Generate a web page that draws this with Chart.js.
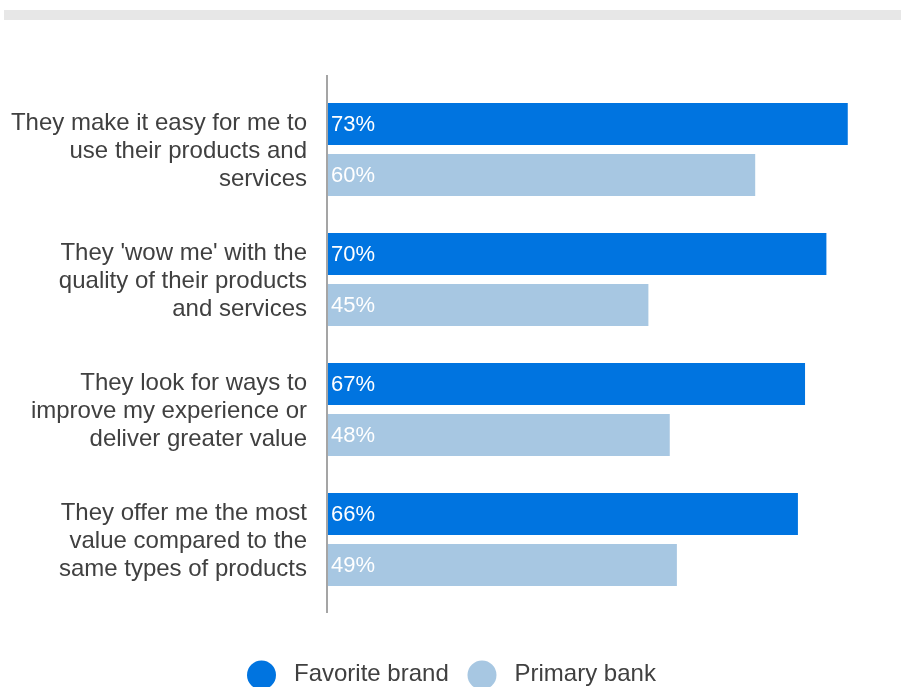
<!DOCTYPE html>
<html>
<head>
<meta charset="utf-8">
<script src="https://cdn.jsdelivr.net/npm/chart.js@4"></script>
<style>
  html, body { margin: 0; padding: 0; background: #fff; }
  #wrap { position: relative; width: 901px; height: 687px; overflow: hidden; }
  #band { position: absolute; left: 4px; top: 10px; width: 897px; height: 10px; background: #e7e7e7; }
  #chart { position: absolute; left: 0; top: 0; }
</style>
</head>
<body>
<div id="wrap">
  <div id="band"></div>
  <canvas id="chart" width="901" height="687"></canvas>
</div>
<script>
const categories = [
  ['They make it easy for me to', 'use their products and', 'services'],
  ["They 'wow me' with the", 'quality of their products', 'and services'],
  ['They look for ways to', 'improve my experience or', 'deliver greater value'],
  ['They offer me the most', 'value compared to the', 'same types of products']
];
const seriesNames = ['Favorite brand', 'Primary bank'];
const favoriteBrand = [73, 70, 67, 66];
const primaryBank = [60, 45, 48, 49];
const colors = ['#0074e0', '#a7c7e2'];

const FONT = '"Liberation Sans", Arial, sans-serif';
const TEXT = '#404040';

// value text inside the left end of each bar
const valueLabels = {
  id: 'valueLabels',
  afterDatasetsDraw(chart) {
    const ctx = chart.ctx;
    ctx.save();
    ctx.font = '22px ' + FONT;
    ctx.fillStyle = '#ffffff';
    ctx.textAlign = 'left';
    ctx.textBaseline = 'middle';
    chart.data.datasets.forEach((ds, i) => {
      chart.getDatasetMeta(i).data.forEach((bar, j) => {
        ctx.fillText(ds.data[j] + '%', bar.base + 3, bar.y + 1);
      });
    });
    ctx.restore();
  }
};

// vertical axis line, a bit taller than the plot area
const axisLine = {
  id: 'axisLine',
  afterDraw(chart) {
    const { ctx, chartArea } = chart;
    ctx.save();
    ctx.strokeStyle = '#a5a5a5';
    ctx.lineWidth = 2;
    ctx.beginPath();
    ctx.moveTo(chartArea.left - 1, chartArea.top - 9.5);
    ctx.lineTo(chartArea.left - 1, chartArea.bottom + 8.5);
    ctx.stroke();
    ctx.restore();
  }
};

// legend row with round markers
const circleLegend = {
  id: 'circleLegend',
  afterDraw(chart) {
    const ctx = chart.ctx;
    const xs = [261.5, 482];
    ctx.save();
    ctx.font = '24px ' + FONT;
    ctx.textBaseline = 'middle';
    ctx.textAlign = 'left';
    chart.data.datasets.forEach((ds, i) => {
      ctx.fillStyle = ds.backgroundColor;
      ctx.beginPath();
      ctx.arc(xs[i], 675, 14.5, 0, Math.PI * 2);
      ctx.fill();
      ctx.fillStyle = TEXT;
      ctx.fillText(ds.label, xs[i] + 32.5, 674);
    });
    ctx.restore();
  }
};

new Chart(document.getElementById('chart'), {
  type: 'bar',
  data: {
    labels: categories,
    datasets: [
      { label: seriesNames[0], data: favoriteBrand, backgroundColor: colors[0] },
      { label: seriesNames[1], data: primaryBank, backgroundColor: colors[1] }
    ]
  },
  options: {
    indexAxis: 'y',
    responsive: false,
    animation: false,
    categoryPercentage: 0.7846,
    barPercentage: 0.8235,
    layout: { padding: { top: 84.5, bottom: 82.5, left: 0, right: 3.4 } },
    plugins: {
      legend: { display: false },
      tooltip: { enabled: false }
    },
    scales: {
      x: {
        display: false,
        min: 0,
        max: 80
      },
      y: {
        grid: { display: false },
        border: { display: false },
        afterFit(scale) { scale.width = 328; },
        ticks: {
          padding: 13,
          labelOffset: 2,
          color: TEXT,
          font: { family: FONT, size: 24, lineHeight: 1.17 }
        }
      }
    }
  },
  plugins: [valueLabels, axisLine, circleLegend]
});
</script>
</body>
</html>
